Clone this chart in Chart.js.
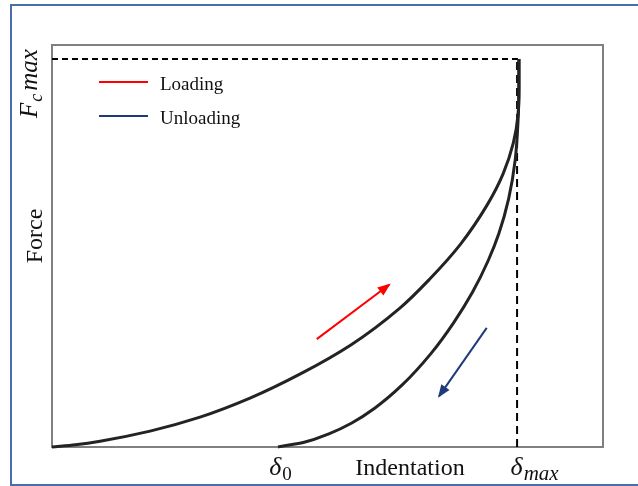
<!DOCTYPE html>
<html>
<head>
<meta charset="utf-8">
<script src="https://cdn.jsdelivr.net/npm/chart.js@4.4.1/dist/chart.umd.min.js"></script>
<style>
  html, body { margin: 0; padding: 0; background: #ffffff; overflow: hidden; }
  #wrap { position: relative; width: 638px; height: 486px; }
  #frame {
    position: absolute; left: 10px; top: 4px; width: 660px; height: 482px;
    box-sizing: border-box; border: 2px solid #4a6fa8; pointer-events: none;
  }
  canvas { position: absolute; left: 0; top: 0; }
</style>
</head>
<body>
<div id="wrap">
  <canvas id="fdCanvas" width="638" height="486"></canvas>
  <div id="frame"></div>
</div>
<script>
// ─── Data (indentation normalised to δmax, force normalised to Fc max) ───────

const loadingF   = [0, 0.006, 0.015, 0.041, 0.077, 0.126, 0.191, 0.263, 0.358, 0.433, 0.523, 0.624, 0.704, 0.784, 0.856, 0.933, 1];
const loadingX   = [0, 0.050, 0.103, 0.210, 0.317, 0.424, 0.536, 0.640, 0.745, 0.809, 0.875, 0.932, 0.966, 0.988, 0.998, 1.0, 1.0];

const unloadingF = [0, 0.013, 0.034, 0.062, 0.10, 0.16, 0.24, 0.32, 0.40, 0.48, 0.55, 0.64, 0.74, 0.84, 0.92, 1];
const unloadingX = [0.484, 0.542, 0.593, 0.642, 0.691, 0.750, 0.811, 0.860, 0.901, 0.934, 0.957, 0.978, 0.992, 0.998, 1.0, 1.0];

const deltaZero  = 0.484;
const deltaMax   = 0.996;
const forceMax   = 1;

const loadArrowX   = [0.567, 0.722];
const loadArrowF   = [0.278, 0.418];
const unloadArrowX = [0.931, 0.829];
const unloadArrowF = [0.307, 0.131];

const seriesNames = ['Loading', 'Unloading'];

// ─── Styling ─────────────────────────────────────────────────────────────────

const COLORS = {
  curve:    '#232323',
  guide:    '#000000',
  box:      '#808080',
  loading:  '#ff0000',
  unloading:'#1f3a7a',
  text:     '#111111',
};
const SERIF = "'Liberation Serif', 'Times New Roman', serif";

const toPoints = (xs, ys) => xs.map((x, i) => ({ x, y: ys[i] }));

// ─── Plugins ─────────────────────────────────────────────────────────────────

// grey plot frame, drawn under the curves
const boxPlugin = {
  id: 'plotBox',
  beforeDatasetsDraw(chart) {
    const { ctx, chartArea: a } = chart;
    ctx.save();
    ctx.strokeStyle = COLORS.box;
    ctx.lineWidth = 2;
    ctx.strokeRect(a.left, a.top, a.right - a.left, a.bottom - a.top);
    ctx.restore();
  },
};

// arrow heads on the direction datasets
const arrowPlugin = {
  id: 'arrowHeads',
  afterDatasetsDraw(chart) {
    const { ctx } = chart;
    chart.data.datasets.forEach((ds, i) => {
      if (!ds._arrow) return;
      const pts = chart.getDatasetMeta(i).data;
      const p0 = pts[pts.length - 2], p1 = pts[pts.length - 1];
      const ang = Math.atan2(p1.y - p0.y, p1.x - p0.x);
      const len = 11, half = 5;
      ctx.save();
      ctx.translate(p1.x, p1.y);
      ctx.rotate(ang);
      ctx.fillStyle = ds.borderColor;
      ctx.beginPath();
      ctx.moveTo(2, 0);
      ctx.lineTo(-len, -half);
      ctx.lineTo(-len, half);
      ctx.closePath();
      ctx.fill();
      ctx.restore();
    });
  },
};

// legend swatches in the upper-left corner of the plot
const legendPlugin = {
  id: 'cornerLegend',
  afterDraw(chart) {
    const { ctx, chartArea: a } = chart;
    const colors = [COLORS.loading, COLORS.unloading];
    ctx.save();
    ctx.font = `19px ${SERIF}`;
    ctx.textBaseline = 'alphabetic';
    seriesNames.forEach((name, i) => {
      const y = a.top + 37 + i * 34;
      ctx.strokeStyle = colors[i];
      ctx.lineWidth = 2;
      ctx.beginPath();
      ctx.moveTo(a.left + 47, y);
      ctx.lineTo(a.left + 96, y);
      ctx.stroke();
      ctx.fillStyle = COLORS.text;
      ctx.fillText(name, a.left + 108, y + 8);
    });
    ctx.restore();
  },
};

// draws "base" followed by a lowered, smaller subscript
function drawSubscripted(ctx, x, y, base, sub, baseFont, subFont, align) {
  ctx.font = baseFont;
  const wb = ctx.measureText(base).width;
  ctx.font = subFont;
  const ws = ctx.measureText(sub).width;
  let start = x;
  if (align === 'center') start = x - (wb + ws) / 2;
  ctx.textAlign = 'left';
  ctx.font = baseFont;
  ctx.fillText(base, start, y);
  ctx.font = subFont;
  ctx.fillText(sub, start + wb + 1, y + 5);
  return wb + ws;
}

// axis titles and the δ0 / δmax / Fc max markers
const axisTextPlugin = {
  id: 'axisText',
  afterDraw(chart) {
    const { ctx, chartArea: a, scales } = chart;
    const xs = scales.x, ys = scales.y;
    const base = a.bottom + 28;
    ctx.save();
    ctx.fillStyle = COLORS.text;
    ctx.textBaseline = 'alphabetic';

    ctx.font = `24px ${SERIF}`;
    ctx.textAlign = 'center';
    ctx.fillText('Indentation', 410, base);

    drawSubscripted(ctx, xs.getPixelForValue(deltaZero) + 2, base, 'δ', '0',
      `italic 26px ${SERIF}`, `19px ${SERIF}`, 'center');
    drawSubscripted(ctx, xs.getPixelForValue(deltaMax) + 17, base, 'δ', 'max',
      `italic 26px ${SERIF}`, `italic 21px ${SERIF}`, 'center');

    // vertical titles
    ctx.save();
    ctx.translate(42, 236);
    ctx.rotate(-Math.PI / 2);
    ctx.font = `24px ${SERIF}`;
    ctx.textAlign = 'center';
    ctx.fillText('Force', 0, 0);
    ctx.restore();

    ctx.save();
    ctx.translate(37, ys.getPixelForValue(forceMax) + 59);
    ctx.rotate(-Math.PI / 2);
    const w = drawSubscripted(ctx, 0, 0, 'F', 'c', `italic 25px ${SERIF}`,
      `italic 18px ${SERIF}`, 'left');
    ctx.font = `italic 25px ${SERIF}`;
    ctx.fillText('max', w + 4, 0);
    ctx.restore();

    ctx.restore();
  },
};

// ─── Chart ───────────────────────────────────────────────────────────────────

const guide = (data, dash) => ({
  data, borderColor: COLORS.guide, borderWidth: 2, borderDash: dash,
  pointRadius: 0, tension: 0, clip: false, order: 3,
});

const curve = (label, xs, fs) => ({
  label, data: toPoints(xs, fs),
  borderColor: COLORS.curve, borderWidth: 3, pointRadius: 0,
  cubicInterpolationMode: 'monotone', clip: false, order: 1,
});

const arrow = (xs, fs, color) => ({
  data: toPoints(xs, fs),
  borderColor: color, borderWidth: 2, pointRadius: 0,
  tension: 0, order: 2, _arrow: true,
});

new Chart(document.getElementById('fdCanvas'), {
  type: 'line',
  data: {
    datasets: [
      guide([{ x: 0, y: forceMax }, { x: 1, y: forceMax }], [6, 4]),
      guide([{ x: deltaMax, y: 0 }, { x: deltaMax, y: forceMax }], [8, 5]),
      curve(seriesNames[0], loadingX, loadingF),
      curve(seriesNames[1], unloadingX, unloadingF),
      arrow(loadArrowX, loadArrowF, COLORS.loading),
      arrow(unloadArrowX, unloadArrowF, COLORS.unloading),
    ],
  },
  options: {
    // force is the index axis so the monotone spline follows x(F)
    indexAxis: 'y',
    responsive: false,
    animation: false,
    layout: { padding: { left: 52, right: 35, top: 45, bottom: 39 } },
    plugins: { legend: { display: false }, tooltip: { enabled: false } },
    scales: {
      x: { type: 'linear', min: 0, max: 1.18, display: false },
      y: { type: 'linear', min: 0, max: 1.036, display: false },
    },
  },
  plugins: [boxPlugin, arrowPlugin, legendPlugin, axisTextPlugin],
});
</script>
</body>
</html>
